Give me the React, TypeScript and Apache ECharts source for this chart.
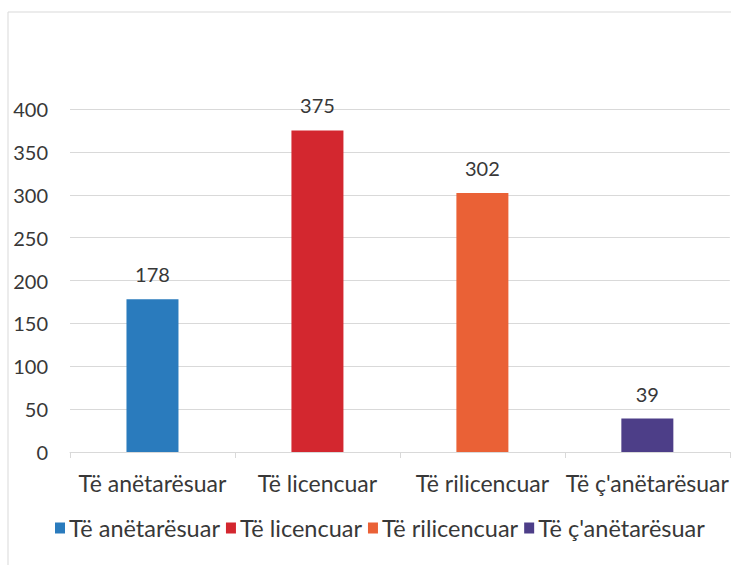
import React, { useEffect, useRef } from "react";
import * as echarts from "echarts";

const categories = ["Të anëtarësuar", "Të licencuar", "Të rilicencuar", "Të ç'anëtarësuar"];
const values = [178, 375, 302, 39];
const colors = ["#2a7bbd", "#d3272f", "#ea6136", "#4d3e88"];
const yTicks = { min: 0, max: 400, interval: 50 };

export default function App() {
  const ref = useRef<HTMLDivElement>(null);
  useEffect(() => {
    if (!ref.current) return;
    const chart = echarts.init(ref.current, undefined, { renderer: "svg" });
    const font = "Lato, 'Noto Sans', sans-serif";
    const series = categories.map((name, i) => ({
      name,
      type: "bar",
      data: values.map((v, j) => (j === i ? v : null)),
      barWidth: 52,
      barGap: "-100%",
      itemStyle: { color: colors[i] },
      label: {
        show: true,
        position: "top",
        distance: 15,
        color: "#383838",
        fontSize: 20,
        fontFamily: font,
      },
    }));
    chart.setOption({
      animation: false,
      backgroundColor: "#ffffff",
      grid: { left: 70, right: -6, top: 109, bottom: 113 },
      legend: {
        bottom: 20,
        left: 50,
        icon: "rect",
        itemWidth: 10,
        itemHeight: 11,
        itemGap: 6,
        textStyle: { color: "#383838", fontSize: 23.5, fontFamily: font, padding: [0, 0, 0, -1] },
        data: categories,
      },
      xAxis: {
        type: "category",
        data: categories,
        axisLine: { lineStyle: { color: "#d9d9d9" } },
        axisTick: { show: true, lineStyle: { color: "#d9d9d9" }, length: 6 },
        axisLabel: { color: "#383838", fontSize: 23, fontFamily: font, margin: 19, interval: 0 },
      },
      yAxis: {
        type: "value",
        min: yTicks.min,
        max: yTicks.max,
        interval: yTicks.interval,
        axisLine: { show: false },
        axisTick: { show: false },
        splitLine: { lineStyle: { color: "#d9d9d9" } },
        axisLabel: { color: "#383838", fontSize: 20, fontFamily: font, margin: 22 },
      },
      graphic: [
        {
          type: "rect",
          shape: { x: 8, y: 12, width: 800, height: 700 },
          style: { fill: "none", stroke: "#d9d9d9", lineWidth: 1 },
          silent: true,
        },
      ],
      series,
    });
    return () => chart.dispose();
  }, []);
  return <div ref={ref} style={{ position: "fixed", left: 0, top: 0, width: 731, height: 565 }} />;
}
